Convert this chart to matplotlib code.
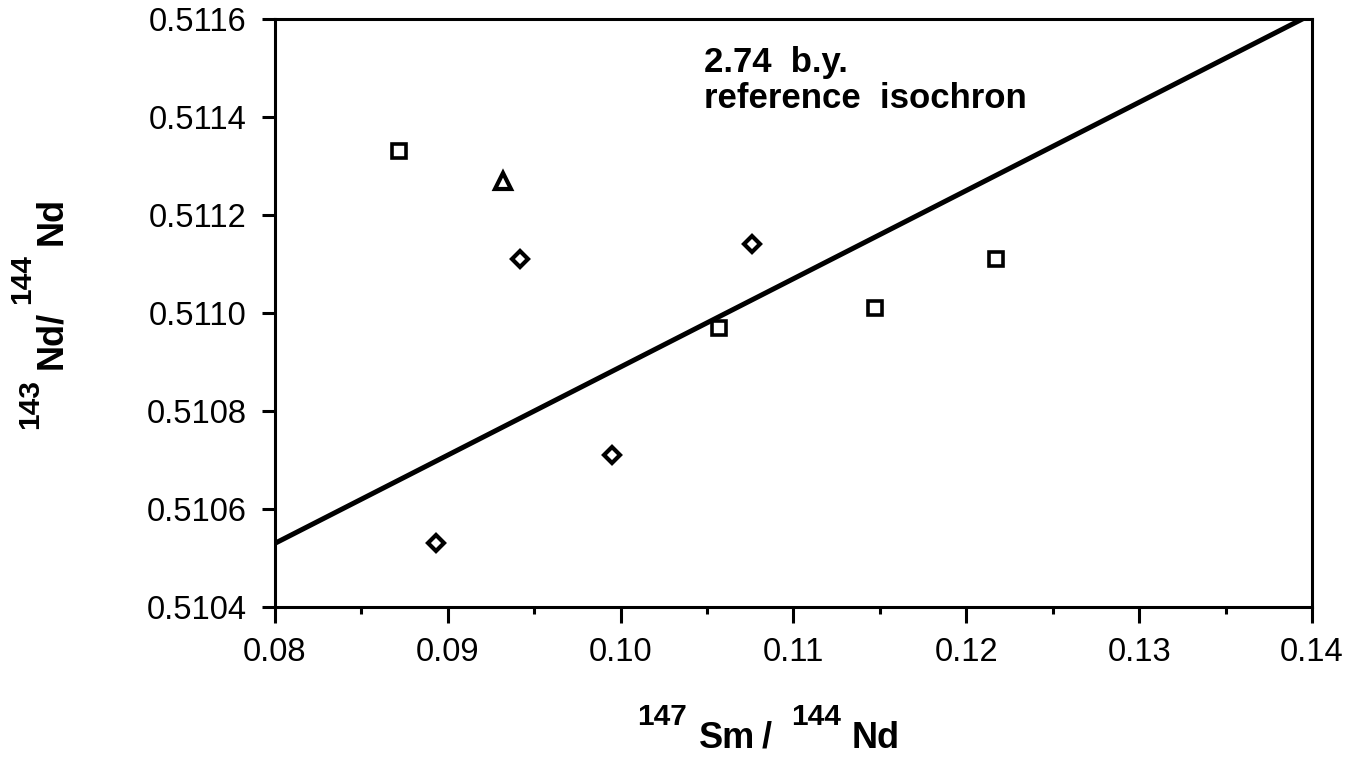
import matplotlib
matplotlib.use('Agg')
import matplotlib.pyplot as plt
from matplotlib.ticker import MultipleLocator, FormatStrFormatter

plt.rcParams['font.family'] = ['Liberation Sans', 'DejaVu Sans']

# --- data ---
square_x = [0.0872, 0.1057, 0.1147, 0.1217]
square_y = [0.51133, 0.51097, 0.51101, 0.51111]
triangle_x = [0.0932]
triangle_y = [0.51127]
diamond_x = [0.0893, 0.0942, 0.0995, 0.1076]
diamond_y = [0.51053, 0.51111, 0.51071, 0.51114]

isochron_x = [0.08, 0.14]
isochron_y = [0.51053, 0.51161]

x_ticks = [0.08, 0.09, 0.10, 0.11, 0.12, 0.13, 0.14]
y_ticks = [0.5104, 0.5106, 0.5108, 0.5110, 0.5112, 0.5114, 0.5116]

W, H = 1360, 760
fig = plt.figure(figsize=(W / 100, H / 100), dpi=100)
ax = fig.add_axes([275 / W, 1 - 607 / H, (1312 - 275) / W, (607 - 19) / H])

ax.plot(isochron_x, isochron_y, color='black', lw=3.6, solid_capstyle='butt')

ax.plot(square_x, square_y, linestyle='none', marker='s', ms=10.5,
        mfc='white', mec='black', mew=2.6)
ax.plot(triangle_x, triangle_y, linestyle='none', marker='^', ms=11,
        mfc='white', mec='black', mew=3.0)
ax.plot(diamond_x, diamond_y, linestyle='none', marker='D', ms=8.5,
        mfc='white', mec='black', mew=3.0)

ax.set_xlim(x_ticks[0], x_ticks[-1])
ax.set_ylim(y_ticks[0], y_ticks[-1])
ax.set_xticks(x_ticks)
ax.set_yticks(y_ticks)
ax.xaxis.set_minor_locator(MultipleLocator(0.005))
ax.xaxis.set_major_formatter(FormatStrFormatter('%.2f'))
ax.yaxis.set_major_formatter(FormatStrFormatter('%.4f'))

for s in ax.spines.values():
    s.set_linewidth(2.2)

ax.tick_params(axis='x', which='major', direction='out', length=11.5, width=2.2,
               labelsize=23.5, pad=10)
ax.tick_params(axis='x', which='minor', direction='out', length=5, width=2.2)
ax.tick_params(axis='y', which='major', direction='out', length=9.5, width=2.2,
               labelsize=23.5, pad=11)
ax.tick_params(top=False, right=False)

ax.text(0.1048, 0.511491, '2.74  b.y.', fontsize=25, fontweight='bold',
        ha='left', va='baseline')
ax.text(0.1048, 0.511419, 'reference  isochron', fontsize=25, fontweight='bold',
        ha='left', va='baseline')

def fx(px):
    return px / W

def fy(py):
    return 1 - py / H

# x-axis label: 147Sm / 144Nd
fig.text(fx(662), fy(725), '147', fontsize=21.5, fontweight='bold', ha='center', va='baseline')
fig.text(fx(727), fy(748), 'Sm', fontsize=26, fontweight='bold', ha='center', va='baseline')
fig.text(fx(767), fy(748), '/', fontsize=26, fontweight='bold', ha='center', va='baseline')
fig.text(fx(816), fy(725), '144', fontsize=21.5, fontweight='bold', ha='center', va='baseline')
fig.text(fx(876), fy(748), 'Nd', fontsize=26, fontweight='bold', ha='center', va='baseline')

# y-axis label: 143Nd/144Nd (rotated)
fig.text(fx(30), fy(404), '143', fontsize=21.5, fontweight='bold', rotation=90, ha='center', va='center')
fig.text(fx(52), fy(340), 'Nd/', fontsize=26, fontweight='bold', rotation=90, ha='center', va='center')
fig.text(fx(22), fy(279), '144', fontsize=21.5, fontweight='bold', rotation=90, ha='center', va='center')
fig.text(fx(52), fy(221), 'Nd', fontsize=26, fontweight='bold', rotation=90, ha='center', va='center')

fig.savefig('out.png', dpi=100, facecolor='white')
